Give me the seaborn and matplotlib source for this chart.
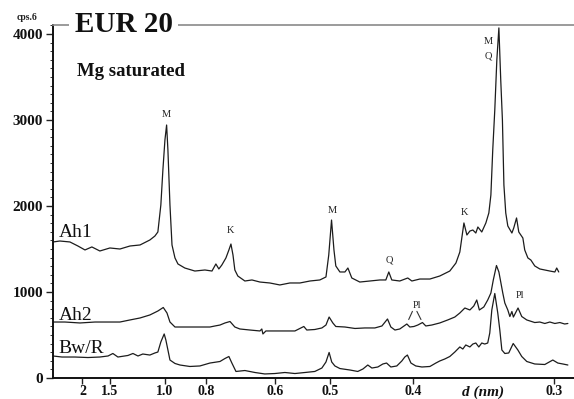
import numpy as np
import pandas as pd
import matplotlib
matplotlib.use("Agg")
import matplotlib.pyplot as plt
from matplotlib.ticker import MultipleLocator
import seaborn as sns

# Diffractogram of EUR 20 (Mg saturated), Cu K-alpha, intensity in cps
two_theta_ah1 = [2.83, 3.20, 3.74, 4.17, 4.55, 4.92, 5.35, 5.89, 6.43, 6.97, 7.51, 8.04, 8.31, 8.47,
                 8.63, 8.74, 8.85, 8.94, 9.01, 9.12, 9.23, 9.39, 9.55, 9.92, 10.46, 11.00, 11.38,
                 11.59, 11.75, 11.91, 12.13, 12.29, 12.40, 12.51, 12.61, 12.77, 13.15, 13.53, 13.96,
                 14.49, 15.03, 15.57, 16.11, 16.65, 17.18, 17.51, 17.66, 17.81, 17.94, 18.04, 18.26,
                 18.53, 18.69, 18.90, 19.33, 19.87, 20.41, 20.73, 20.89, 21.05, 21.48, 21.91, 22.13,
                 22.56, 23.10, 23.63, 24.17, 24.50, 24.71, 24.93, 25.09, 25.25, 25.41, 25.57, 25.68,
                 25.89, 26.11, 26.27, 26.38, 26.48, 26.59, 26.70, 26.81, 26.91, 27.00, 27.08, 27.18,
                 27.29, 27.51, 27.61, 27.76, 27.88, 28.10, 28.20, 28.37, 28.53, 28.74, 29.01, 29.28,
                 29.55, 29.82, 29.92, 30.03]
cps_ah1 = [1582, 1593, 1582, 1535, 1489, 1524, 1477, 1512, 1500, 1535, 1547, 1605, 1651, 1698,
           2012, 2419, 2768, 2942, 2652, 2012, 1547, 1396, 1326, 1279, 1244, 1256, 1244,
           1326, 1268, 1314, 1396, 1489, 1558, 1430, 1256, 1186, 1128, 1140, 1116,
           1105, 1082, 1105, 1105, 1128, 1140, 1175, 1430, 1837, 1489, 1303, 1233,
           1233, 1279, 1163, 1116, 1128, 1140, 1140, 1233, 1140, 1128, 1163, 1128,
           1151, 1151, 1186, 1244, 1337, 1465, 1803, 1663, 1709, 1721, 1686, 1756,
           1698, 1803, 1919, 2128, 2652, 3117, 3698, 4071, 3466, 3000, 2245, 1919,
           1768, 1686, 1745, 1861, 1698, 1628, 1489, 1396, 1372, 1303, 1268, 1256,
           1244, 1233, 1279, 1233]

two_theta_ah2 = [2.83, 3.47, 4.28, 5.09, 5.89, 6.43, 6.97, 7.51, 8.04, 8.47, 8.76, 8.96, 9.12, 9.39,
                 9.66, 10.19, 10.73, 11.27, 11.54, 11.81, 12.08, 12.35, 12.61, 12.88, 13.42, 13.96,
                 14.06, 14.12, 14.28, 15.03, 15.84, 16.32, 16.48, 16.91, 17.29, 17.51, 17.68, 17.88,
                 18.04, 18.53, 19.07, 19.60, 20.14, 20.52, 20.82, 21.00, 21.22, 21.48, 21.86, 22.02,
                 22.24, 22.45, 22.70, 22.88, 23.20, 23.63, 24.06, 24.44, 24.71, 24.98, 25.25, 25.46,
                 25.62, 25.76, 26.00, 26.21, 26.38, 26.51, 26.68, 26.81, 26.89, 27.02, 27.13, 27.29,
                 27.40, 27.51, 27.59, 27.84, 28.04, 28.31, 28.74, 29.01, 29.28, 29.55, 29.82, 30.09,
                 30.35, 30.52]
cps_ah2 = [651, 651, 640, 651, 651, 651, 675, 698, 733, 779, 820, 756, 651, 593,
           593, 593, 593, 593, 605, 616, 640, 657, 593, 570, 558, 547,
           570, 512, 547, 547, 547, 599, 558, 564, 582, 616, 709, 640,
           599, 593, 576, 582, 582, 605, 686, 593, 558, 570, 628, 593,
           599, 616, 645, 605, 616, 640, 675, 709, 756, 814, 791, 837,
           907, 791, 826, 907, 988, 1140, 1308, 1233, 1140, 988, 872, 791,
           715, 773, 709, 814, 715, 675, 645, 651, 634, 651, 634, 645,
           628, 634]

two_theta_bwr = [2.83, 3.31, 4.01, 4.71, 5.35, 5.79, 6.05, 6.32, 6.86, 7.13, 7.40, 7.66, 8.04, 8.31,
                 8.47, 8.63, 8.81, 8.90, 9.01, 9.12, 9.39, 9.66, 10.19, 10.73, 11.27, 11.81, 12.08,
                 12.29, 12.45, 12.67, 13.15, 13.69, 14.22, 14.76, 15.30, 15.84, 16.38, 16.91, 17.29,
                 17.51, 17.68, 17.82, 17.99, 18.26, 18.80, 19.22, 19.50, 19.76, 19.98, 20.30, 20.57,
                 20.77, 21.00, 21.32, 21.59, 21.75, 21.89, 22.08, 22.34, 22.67, 23.10, 23.42, 23.63,
                 23.90, 24.17, 24.44, 24.71, 24.87, 25.03, 25.25, 25.41, 25.57, 25.73, 25.89, 26.05,
                 26.21, 26.32, 26.43, 26.59, 26.75, 26.86, 26.97, 27.13, 27.34, 27.58, 27.83, 28.04,
                 28.31, 28.74, 29.28, 29.71, 29.98, 30.25, 30.52]
cps_bwr = [256, 244, 244, 238, 244, 256, 285, 244, 262, 285, 256, 279, 267, 291,
           302, 419, 512, 442, 326, 209, 169, 151, 134, 140, 174, 192, 227,
           250, 174, 76, 87, 64, 47, 52, 64, 52, 64, 76, 116,
           186, 297, 186, 140, 110, 93, 76, 105, 151, 116, 128, 163,
           174, 128, 140, 198, 244, 267, 174, 140, 128, 134, 174, 198,
           221, 250, 302, 361, 337, 384, 361, 395, 407, 361, 407, 395,
           407, 523, 791, 983, 756, 558, 326, 285, 291, 401, 326, 250,
           192, 163, 157, 209, 174, 163, 151]

horizons = ["Ah1", "Ah2", "Bw/R"]

# d-spacing tick labels (nm), placed on the 2-theta axis through Bragg's law
d_ticks = [2, 1.5, 1.0, 0.8, 0.6, 0.5, 0.4, 0.3]
d_tick_labels = ["2", "1.5", "1.0", "0.8", "0.6", "0.5", "0.4", "0.3"]
WAVELENGTH_NM = 0.15406

# Mineral labels: M mica, K kaolinite, Q quartz, Pl plagioclase
peak_labels = [("M", 8.94, 3060), ("K", 12.35, 1720), ("M", 17.84, 1950),
               ("Q", 20.94, 1370), ("K", 24.94, 1925), ("M", 26.23, 3910),
               ("Q", 26.25, 3745), ("Pl", 22.41, 840), ("Pl", 27.97, 955)]


def d_to_two_theta(d):
    return np.degrees(2 * np.arcsin(WAVELENGTH_NM / (2 * np.asarray(d, dtype=float))))


df = pd.concat([
    pd.DataFrame({"two_theta": tt, "cps": c, "horizon": h})
    for tt, c, h in zip([two_theta_ah1, two_theta_ah2, two_theta_bwr],
                        [cps_ah1, cps_ah2, cps_bwr], horizons)
], ignore_index=True)

sns.set_theme(style="white")
plt.rcParams["font.family"] = ["Liberation Serif", "DejaVu Serif"]

fig = plt.figure(figsize=(5.74, 3.99), dpi=100)
ax = fig.add_axes([53 / 574, 21 / 399, 1 - 53 / 574, 353 / 399])

sns.lineplot(data=df, x="two_theta", y="cps", units="horizon", estimator=None,
             sort=False, color="#1c1c1c", linewidth=0.9, legend=False, ax=ax)

ax.set_xlim(2.83, 30.85)
ax.set_ylim(0, 4105)
ax.set_xlabel("")
ax.set_ylabel("")

ax.set_xticks(d_to_two_theta(d_ticks))
ax.set_xticklabels(d_tick_labels, fontsize=10, fontweight="bold")
ax.set_yticks([0, 1000, 2000, 3000, 4000])
ax.set_yticklabels(["0", "1000", "2000", "3000", "4000"], fontsize=11, fontweight="bold")
ax.yaxis.set_minor_locator(MultipleLocator(100))
ax.tick_params(axis="both", which="major", direction="out", length=5, width=1.0,
               color="#222222", pad=2, left=True, bottom=True, labelcolor="#111111")
ax.tick_params(axis="x", which="major", pad=0.5, length=4.5)
ax.tick_params(axis="y", which="minor", direction="out", length=2.5, width=0.7,
               color="#333333", left=True)

for side in ("left", "bottom"):
    ax.spines[side].set_color("#111111")
    ax.spines[side].set_linewidth(1.4)
ax.spines["right"].set_visible(False)
ax.spines["top"].set_color("#8a8a8a")
ax.spines["top"].set_linewidth(1.2)

ax.text(0.042, 1.0, "EUR 20", transform=ax.transAxes, ha="left", va="center",
        fontsize=21, fontweight="bold", color="#111111",
        bbox=dict(facecolor="white", edgecolor="none", pad=4), zorder=5)
ax.text(0.046, 0.867, "Mg saturated", transform=ax.transAxes, ha="left", va="center",
        fontsize=13.5, fontweight="bold", color="#111111")

for name, y in zip(horizons, [0.399, 0.164, 0.0708]):
    ax.text(0.0102, y, name, transform=ax.transAxes, ha="left", va="baseline",
            fontsize=14, color="#111111")

for lab, x, y in peak_labels:
    ax.text(x, y, lab, ha="center", va="center", fontsize=7.5, color="#222222")

# Two plagioclase reflections marked under one label
for x0, x1 in [(22.16, 21.96), (22.40, 22.62)]:
    ax.annotate("", xy=(x1, 680), xytext=(x0, 775),
                arrowprops=dict(arrowstyle="-", color="#333333", lw=0.8,
                                shrinkA=0, shrinkB=0))

fig.text(483 / 574, 1 - 392 / 399, "d (nm)", ha="center", va="center",
         fontsize=11, fontweight="bold", fontstyle="italic", color="#111111")
fig.text(27 / 574, 1 - 17 / 399, "cps.6", ha="center", va="center",
         fontsize=7, fontweight="bold", color="#222222")

fig.savefig("out.png", dpi=100, facecolor="white")
